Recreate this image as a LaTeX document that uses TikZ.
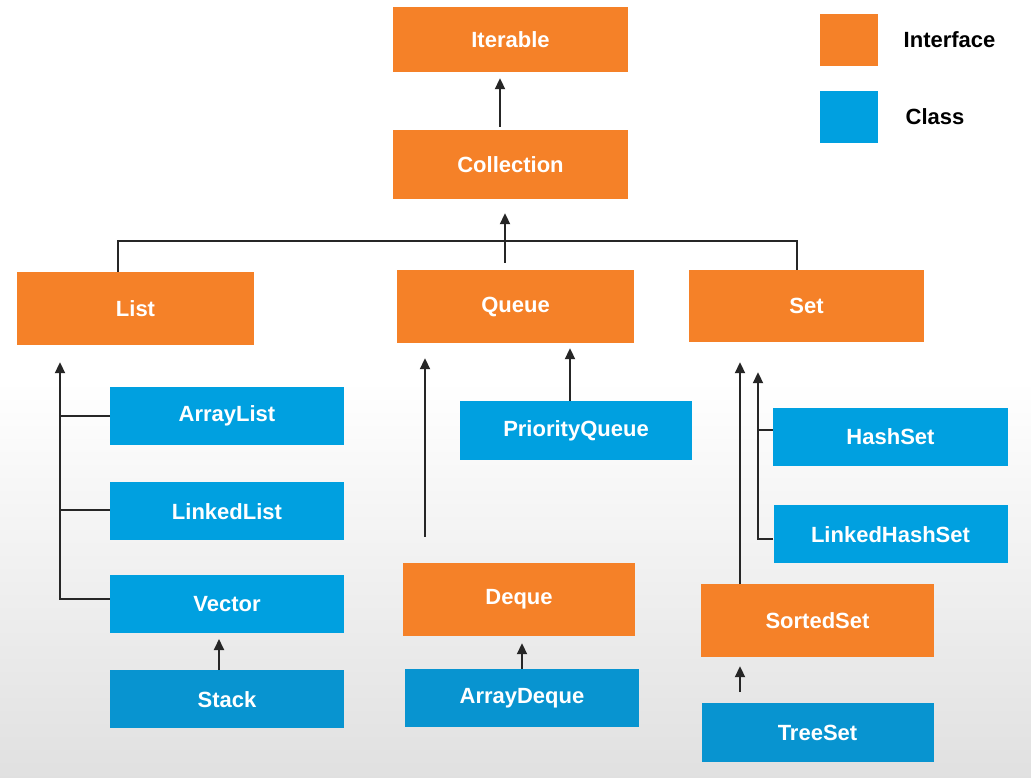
\documentclass[tikz,border=0pt]{standalone}
\usepackage{fontspec}
\setmainfont{Liberation Sans}
\usetikzlibrary{positioning,arrows.meta,calc}

\definecolor{ifaceorange}{RGB}{245,129,40}
\definecolor{classblue}{RGB}{0,160,224}
\definecolor{classdark}{RGB}{8,148,208}

\begin{document}
\begin{tikzpicture}[x=1pt,y=-1pt,
    box/.style={inner sep=0pt, text=white, font=\fontsize{22}{26}\selectfont\bfseries},
    iface/.style={box, fill=ifaceorange},
    cls/.style={box, fill=classblue, minimum width=234pt, minimum height=58pt},
    legtext/.style={font=\fontsize{22}{26}\selectfont\bfseries},
    link/.style={line width=2pt, black!85},
    arr/.style={link, -{Triangle[length=11pt,width=10pt]}},
    node distance=36pt and 22pt]
  \fill[white] (0,0) rectangle (1031,777);
  \shade[top color=white, bottom color=black!12] (0,380) rectangle (1031,777);
  \useasboundingbox (0,0) rectangle (1031,777);

                                \node[iface, minimum width=235pt, minimum height=65pt] (iterable) at (510.5,39.5) {Iterable};
                                \node[iface, minimum width=235pt, minimum height=69pt] (collection) at (510.5,164.5) {Collection};
  \node[iface, minimum width=237pt, minimum height=73pt] (list) at (135.5,308.5) {List};
                                \node[iface, minimum width=237pt, minimum height=73pt] (queue) at (515.5,306.5) {Queue};
                                                                \node[iface, minimum width=235pt, minimum height=72pt] (set) at (806.5,306) {Set};

  \node[cls] (arraylist) at (227,416) {ArrayList};
  \node[cls, below=37pt of arraylist] (linkedlist) {LinkedList};
  \node[cls, below=34pt of linkedlist] (vector) {Vector};
  \node[cls, fill=classdark, below=37pt of vector] (stack) {Stack};

                                \node[cls, minimum width=232pt, minimum height=59pt] (pqueue) at (576,430.5) {PriorityQueue};
                                \node[iface, minimum width=232pt, minimum height=73pt] (deque) at (519,599.5) {Deque};
                                \node[cls, fill=classdark, below=33pt of deque, xshift=3pt] (arraydeque) {ArrayDeque};

                                                                \node[cls, minimum width=235pt] (hashset) at (890.5,437) {HashSet};
                                                                \node[cls, below=39pt of hashset] (linkedhashset) {LinkedHashSet};
                                                                \node[iface, minimum width=233pt, minimum height=73pt] (sortedset) at (817.5,620.5) {SortedSet};
                                                                \node[cls, fill=classdark, minimum width=232pt, minimum height=59pt, below=46pt of sortedset] (treeset) {TreeSet};

  \node[iface, minimum width=58pt, minimum height=52pt] (legiface) at (849,40) {};
  \node[cls, minimum width=58pt, minimum height=52pt] (legclass) at (849,117) {};
  \node[legtext, right=22pt of legiface] (legifacetext) {Interface};
  \node[legtext, right=24pt of legclass] (legclasstext) {Class};

  \coordinate (bus) at (505,241);
  \coordinate (ltrunk) at ([xshift=-75.5pt]list.south);
  \coordinate (strunk) at ([xshift=-48.5pt]set.south);

  \draw[arr, shorten <=3pt, shorten >=6pt] ([xshift=-10.5pt]collection.north) -- ([xshift=-10.5pt]iterable.south);
  \draw[link] ([xshift=-17.5pt]list.north) |- (bus) -| ([xshift=-9.5pt]set.north);
  \draw[arr, shorten <=7pt, shorten >=14pt] ([xshift=-10.5pt]queue.north) -- ([xshift=-5.5pt]collection.south);

  \draw[arr, shorten >=17pt] ([yshift=5pt]vector.west) -| (ltrunk);
  \draw[link] (arraylist.west) -- (arraylist.west -| ltrunk);
  \draw[link] ([yshift=1pt]linkedlist.west) -- ([yshift=1pt]linkedlist.west -| ltrunk);
  \draw[arr, shorten >=6pt] ([xshift=-8pt]stack.north) -- ([xshift=-8pt]stack.north |- vector.south);

  \draw[arr, shorten >=5pt] ([xshift=-6pt]pqueue.north) -- ([xshift=-6pt]pqueue.north |- queue.south);
  \draw[arr, shorten <=26pt, shorten >=15pt] ([xshift=-94pt]deque.north) -- ([xshift=-94pt]deque.north |- queue.south);
  \draw[arr, shorten >=7pt] (arraydeque.north) -- (arraydeque.north |- deque.south);

  \draw[arr, shorten >=20pt] ([xshift=-77.5pt]sortedset.north) -- ([xshift=-77.5pt]sortedset.north |- set.south);
  \draw[arr, shorten >=30pt] ([yshift=-5pt]linkedhashset.west) -| (strunk);
  \draw[link] ([yshift=7pt]hashset.west) -- ([yshift=7pt]hashset.west -| strunk);
  \draw[arr, shorten <=11pt, shorten >=9pt] ([xshift=-77.5pt]treeset.north) -- ([xshift=-77.5pt]treeset.north |- sortedset.south);
\end{tikzpicture}
\end{document}
